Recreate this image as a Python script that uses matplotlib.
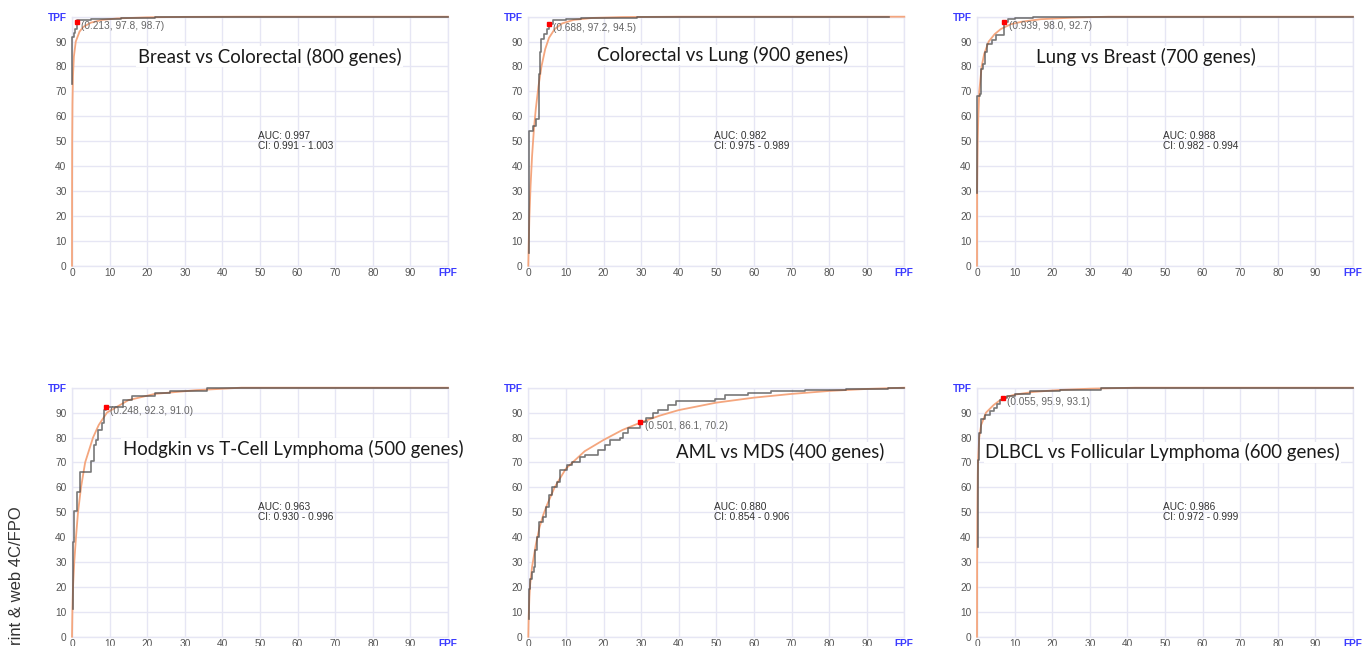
import matplotlib
matplotlib.use("Agg")
import matplotlib.pyplot as plt

# ---------------- data ----------------
titles = ["Breast vs Colorectal (800 genes)", "Colorectal vs Lung (900 genes)",
          "Lung vs Breast (700 genes)", "Hodgkin vs T-Cell Lymphoma (500 genes)",
          "AML vs MDS (400 genes)", "DLBCL vs Follicular Lymphoma (600 genes)"]
auc_text = ["AUC: 0.997", "AUC: 0.982", "AUC: 0.988", "AUC: 0.963", "AUC: 0.880", "AUC: 0.986"]
ci_text = ["CI: 0.991 - 1.003", "CI: 0.975 - 0.989", "CI: 0.982 - 0.994",
           "CI: 0.930 - 0.996", "CI: 0.854 - 0.906", "CI: 0.972 - 0.999"]
opt_label = ["(0.213, 97.8, 98.7)", "(0.688, 97.2, 94.5)", "(0.939, 98.0, 92.7)",
             "(0.248, 92.3, 91.0)", "(0.501, 86.1, 70.2)", "(0.055, 95.9, 93.1)"]
opt_fpf = [1.3, 5.5, 7.3, 9.0, 29.8, 6.9]
opt_tpf = [97.8, 97.2, 98.0, 92.3, 86.1, 95.9]

# empirical ROC (at FPF x, TPF steps up to y)
emp1_fpf = [0.1, 0.1, 0.5, 0.9, 1.3, 5, 13, 22, 100]
emp1_tpf = [73, 92, 93.5, 95, 98.7, 99.2, 99.5, 100, 100]
emp2_fpf = [0.1, 0.1, 0.3, 1.2, 2.0, 2.8, 3.0, 3.4, 4.1, 5.0, 5.5, 6.5, 10, 14, 29, 96]
emp2_tpf = [5, 27, 54, 56, 59, 77, 86, 91, 93, 95, 97.2, 98.7, 99.2, 99.6, 100, 100]
emp3_fpf = [0.1, 0.1, 0.9, 1.15, 1.6, 2.0, 2.6, 4.0, 5.0, 7.3, 8.3, 10, 15, 100]
emp3_tpf = [29, 68, 69, 79, 81, 86, 89, 90.5, 92.7, 98.0, 99, 99.6, 100, 100]
emp4_fpf = [0.3, 0.3, 0.6, 1.3, 2.0, 5.1, 5.8, 6.5, 7.0, 8.0, 8.5, 9.0, 13.5, 16, 22, 26, 36, 100]
emp4_tpf = [11, 38, 50.5, 58, 66, 70.5, 77, 79, 83, 86, 91, 92.3, 95, 96.5, 97.8, 98.5, 100, 100]
emp5_fpf = [0.3, 0.3, 0.5, 0.9, 1.6, 1.9, 2.3, 2.9, 3.8, 4.6, 5.5, 6.4, 7.5, 8.4, 10.2, 11.7,
            13.7, 15.0, 18.6, 20.4, 21.7, 24.3, 25.2, 26.5, 29.8, 31.4, 33.2, 34.5, 37.2, 39.4,
            49.6, 52.2, 58.4, 64.6, 73.5, 84.5, 95.6, 100]
emp5_tpf = [7, 19, 23, 26, 28, 35, 40, 46, 48, 52, 57, 60, 62, 67, 69, 70,
            72, 73, 75, 77, 79, 80, 82, 84, 86.1, 88, 90, 91, 93, 94.5,
            95.5, 97, 98, 98.5, 99, 99.5, 100, 100]
emp6_fpf = [0.2, 0.2, 0.3, 0.45, 1.0, 2.2, 3.5, 4.4, 5.3, 6.2, 6.9, 8.0, 10, 14, 22, 33, 100]
emp6_tpf = [36, 52, 71, 82, 87.5, 89, 90.5, 92, 93.5, 95, 95.9, 96.8, 97.5, 98.5, 99.0, 100, 100]

# fitted (smooth) ROC
fit1_fpf = [0, 0.02, 0.05, 0.12, 0.25, 0.5, 1, 2, 3, 5, 8, 12, 20, 30, 45, 100]
fit1_tpf = [0, 30, 50, 65, 76, 84, 90, 94, 95.9, 97.6, 98.7, 99.3, 99.75, 99.93, 100, 100]
fit2_fpf = [0, 0.1, 0.3, 0.6, 1.0, 1.5, 2.0, 2.7, 3.5, 4.5, 5.5, 7, 9, 12, 17, 25, 40, 100]
fit2_tpf = [0, 8, 20, 32, 44, 55, 63, 72, 80, 87, 91.5, 95, 97.3, 98.7, 99.5, 99.85, 100, 100]
fit3_fpf = [0, 0.02, 0.18, 0.35, 0.6, 1.24, 1.9, 3.1, 4.7, 6.3, 9, 12, 17, 25, 35, 100]
fit3_tpf = [0, 30, 50, 60, 70, 80, 85, 90, 93, 95, 97, 98, 99, 99.6, 100, 100]
fit4_fpf = [0, 0.1, 0.27, 0.6, 1.06, 1.6, 2.4, 3.5, 5.6, 7.1, 9.3, 15, 22, 33, 45, 100]
fit4_tpf = [0, 10, 20, 30, 40, 50, 60, 70, 80, 85, 90, 95, 97.5, 99, 100, 100]
fit5_fpf = [0, 0.1, 0.3, 0.5, 1, 2, 3, 4, 5, 7, 10, 15, 20, 25, 30, 35, 40, 50, 60, 70, 80, 90, 100]
fit5_tpf = [0, 8, 16, 21, 28, 37, 44, 49, 53, 60, 67.5, 74.5, 79, 83, 86.1, 88.8, 91, 94, 96, 97.5,
            98.7, 99.5, 100]
fit6_fpf = [0, 0.03, 0.1, 0.2, 0.3, 0.6, 1.1, 2.4, 4.4, 6.9, 10, 15, 22, 30, 42, 100]
fit6_tpf = [0, 30, 50, 65, 72, 80, 85, 90, 93, 95.9, 97.2, 98.3, 99.1, 99.6, 100, 100]

x_ticks = [0, 10, 20, 30, 40, 50, 60, 70, 80, 90, 100]
x_ticklabels = ["0", "10", "20", "30", "40", "50", "60", "70", "80", "90", "FPF"]
y_ticks = [0, 10, 20, 30, 40, 50, 60, 70, 80, 90, 100]
y_ticklabels = ["0", "10", "20", "30", "40", "50", "60", "70", "80", "90", "TPF"]

emp = [(emp1_fpf, emp1_tpf), (emp2_fpf, emp2_tpf), (emp3_fpf, emp3_tpf),
       (emp4_fpf, emp4_tpf), (emp5_fpf, emp5_tpf), (emp6_fpf, emp6_tpf)]
fit = [(fit1_fpf, fit1_tpf), (fit2_fpf, fit2_tpf), (fit3_fpf, fit3_tpf),
       (fit4_fpf, fit4_tpf), (fit5_fpf, fit5_tpf), (fit6_fpf, fit6_tpf)]

# ---------------- layout ----------------
W, H = 1371, 646
fig = plt.figure(figsize=(W / 100, H / 100), dpi=100)
col_x = [72, 528.3, 977]
row_y0 = [265.7, 636.7]
ax_w, ax_h = 376, 249
title_pos = [(52.5, 84.0), (51.6, 84.6), (44.9, 84.0), (58.8, 75.5), (67.0, 74.0), (49.3, 74.0)]

grid_c = "#e6e6f4"
orange = "#f4a67e"
gray = "#444444"
tick_font = "Liberation Sans"

for i in range(6):
    r, c = divmod(i, 3)
    left = col_x[c] / W
    bottom = 1 - row_y0[r] / H
    ax = fig.add_axes([left, bottom, ax_w / W, ax_h / H])
    ax.set_xlim(0, 100)
    ax.set_ylim(0, 100)
    ax.set_xticks(x_ticks)
    ax.set_yticks(y_ticks)
    ax.set_xticklabels(x_ticklabels, fontsize=7.3, color="#555555", family=tick_font)
    ax.set_yticklabels(y_ticklabels, fontsize=7.3, color="#555555", family=tick_font)
    ax.get_xticklabels()[-1].set_color("#3b3bff")
    ax.get_yticklabels()[-1].set_color("#3b3bff")
    ax.get_xticklabels()[-1].set_fontweight("bold")
    ax.get_yticklabels()[-1].set_fontweight("bold")
    ax.tick_params(length=0, pad=2, axis="x")
    ax.tick_params(length=0, pad=4, axis="y")
    ax.grid(True, color=grid_c, lw=1)
    for s in ax.spines.values():
        s.set_color(grid_c)
        s.set_linewidth(1)
    ax.set_axisbelow(True)

    fx, fy = fit[i]
    ax.plot(fx, fy, color=orange, lw=1.3, zorder=3, clip_on=False)
    ex, ey = emp[i]
    ax.plot(ex, ey, color=gray, lw=1.2, alpha=0.72, drawstyle="steps-post", zorder=4,
            clip_on=False)
    ax.plot([opt_fpf[i]], [opt_tpf[i]], "s", color="#ff0000", ms=3, zorder=5, clip_on=False)
    ax.annotate(opt_label[i], (opt_fpf[i], opt_tpf[i]), xytext=(3, -3),
                textcoords="offset points", ha="left", va="center", fontsize=7.3,
                color="#666666", family=tick_font, zorder=6)
    ax.text(49.5, 50, auc_text[i] + "\n" + ci_text[i], fontsize=7.3, color="#333333",
            family=tick_font, ha="left", va="center", linespacing=1.0, zorder=6)
    tx, ty = title_pos[i]
    ax.text(tx, ty, titles[i], fontsize=13.4, family="Lato", color="#1a1a1a",
            ha="center", va="center", zorder=7,
            bbox=dict(facecolor="white", edgecolor="none", pad=1))

fig.text(17 / W, 1 - 645 / H, "rint & web 4C/FPO", rotation=90, fontsize=12,
         family=tick_font, color="#333333", ha="center", va="bottom")

fig.savefig("out.png", dpi=100)
